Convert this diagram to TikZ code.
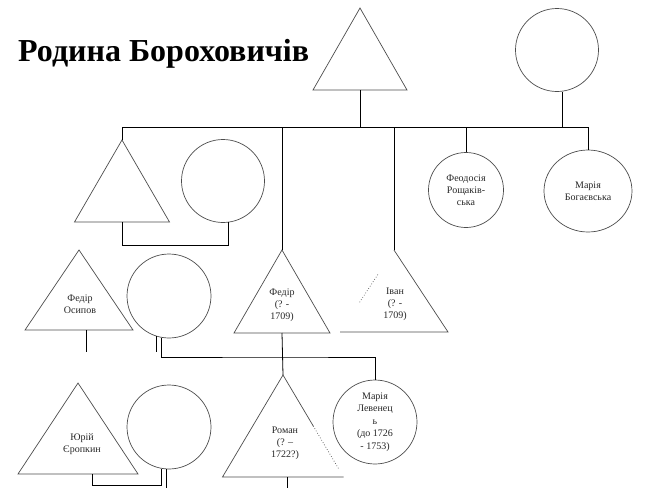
\documentclass[tikz,border=0pt]{standalone}
\usepackage{fontspec}
\setmainfont{Liberation Serif}
\usepackage{tikz}
\usetikzlibrary{calc}
\usetikzlibrary{shapes.geometric}
\def\RSmall{\fontsize{10}{12}\selectfont}
\def\FRad{83pt}
% triangle for a man: name, apex, half width, height
\newcommand{\maletri}[4]{%
  \coordinate (#1) at (#2);
  \coordinate (#1l) at ($(#1)+(-#3,#4)$);
  \coordinate (#1r) at ($(#1)+(#3,#4)$);
  \coordinate (#1b) at ($(#1l)!0.5!(#1r)$);
}

\begin{document}
\begin{tikzpicture}[x=1pt,y=-1pt,
    shp/.style={draw=black!70,line width=0.7pt},
    lnk/.style={draw=black,line width=0.8pt},
    fem/.style={shp,circle,minimum size=\FRad,inner sep=0pt},
    txt/.style={font=\RSmall,align=center,inner sep=0pt,text=black!85}]
	\useasboundingbox (0,0) rectangle (646,488);
	\node[anchor=base west,inner sep=0pt,font=\fontsize{32}{36}\selectfont\bfseries] (title) at (18,61) {Родина Бороховичів};
	% 
	\maletri{fa}{360,8}{47}{82}
	\node[fem] (mo) at (557,50) {};
	\coordinate (bar) at (360,127);
	% 
	\maletri{ta}{122,140}{47.5}{82}
	\node[fem] (tc) at (223,181) {};
	\maletri{fed}{282,250}{48}{83}
	\maletri{iv}{394,250}{54}{82}
	\node[shp,circle,minimum size=75pt,inner sep=0pt,txt] (feo) at (466,190) {Феодосія\\Рощаків-\\ська};
	\node[shp,ellipse,minimum width=88pt,minimum height=82pt,inner sep=0pt,txt] (bog) at (588,191) {Марія\\Богаєвська};
	% 
	\maletri{fo}{79,250}{54}{80}
	\node[fem,minimum size=84pt] (oc) at (169,296) {};
	\coordinate (jn) at (282,357);
	% 
	\maletri{yu}{78,383}{60}{91}
	\node[fem,minimum size=84pt] (yc) at (169,427) {};
	\maletri{rom}{283,375}{60.5}{102}
	\node[fem,minimum size=84pt,txt,font=\fontsize{10}{12.5}\selectfont] (lev) at (375,422) {Марія\\Левенец\\ь\\(до 1726\\- 1753)};
	\coordinate (bot) at (0,488);
	% 
	\draw[shp] (fa) -- (fal) -- (far) -- cycle;
	\draw[shp] (ta) -- (tal) -- (tar) -- cycle;
	\draw[shp] (fed) -- (fedl) -- (fedr) -- cycle;
	\draw[shp] (ivl) -- (ivr) -- (iv);
	\draw[shp,dotted] ($(iv)!0.3!(ivl)$) -- ($(iv)!0.65!(ivl)$);
	\draw[shp] (fo) -- (fol) -- (for) -- cycle;
	\draw[shp] (yu) -- (yul) -- (yur) -- cycle;
	\draw[shp] ($(rom)!0.5!(romr)$) -- (rom) -- (roml) -- (romr);
	\draw[shp,dotted] ($(rom)!0.5!(romr)$) -- ($(rom)!0.93!(romr)$);
	% 
	\node[txt] (fedt) at (282,305) {Федір\\(? -\\1709)};
	\node[txt] (ivt) at (395,304) {Іван\\(? -\\1709)};
	\node[txt] (fot) at (80,304) {Федір\\Осипов};
	\node[txt] (yut) at (82,444) {Юрій\\Єропкин};
	\node[txt] (romt) at (285,443) {Роман\\(? –\\1722?)};
	% 
	\draw[lnk] (fab) -- (fab |- bar);
	\draw[lnk] (mo.-83) -- (mo.-83 |- bar);
	\draw[lnk] (ta) -- (ta |- bar) -- (bar -| bog.north) -- (bog.north);
	\draw[lnk] (fed |- bar) -- (fed);
	\draw[lnk] (iv |- bar) -- (iv);
	\draw[lnk] (feo.north |- bar) -- (feo.north);
	\draw[lnk] (tab) -- ++(0,23) -| (tc.-82);
	\draw[lnk] ($(fob)+(7,0)$) -- ++(0,22);
	\draw[lnk] (oc.-108) -- ++(0,16);
	\draw[lnk] (oc.-101) |- (jn) -| (lev.north);
	\draw[lnk] (fedb) -- (rom);
	\draw[lnk] ($(yub)+(14,0)$) -- ++(0,11) -| (yc.-100);
	\draw[lnk] (yc.-93) -- (yc.-93 |- bot);
	\draw[lnk] ($(romb)+(4,0)$) -- ($(romb)+(4,11)$);
\end{tikzpicture}
\end{document}
